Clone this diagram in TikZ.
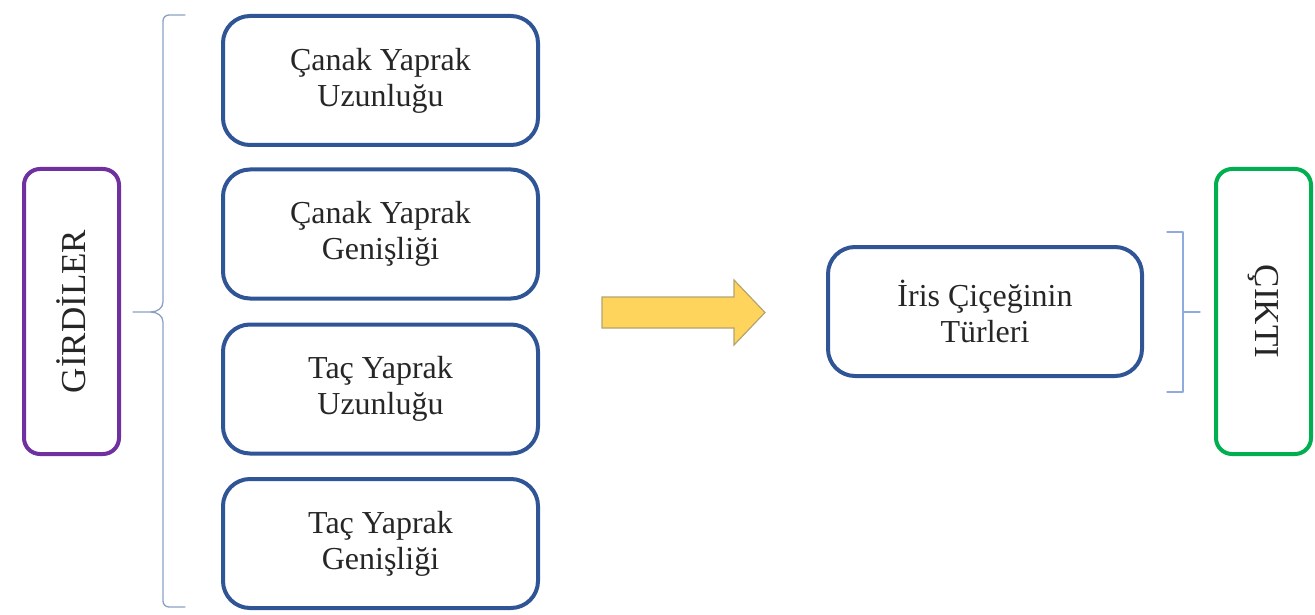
\documentclass[tikz,border=0pt]{standalone}
\usepackage{fontspec}
\setmainfont{Liberation Serif}
\definecolor{boxblue}{HTML}{2F5597}
\definecolor{inpurple}{HTML}{7030A0}
\definecolor{outgreen}{HTML}{00B050}
\definecolor{bracegray}{HTML}{8A9FC4}
\definecolor{bracketblue}{HTML}{8FAADC}
\definecolor{arrowfill}{HTML}{FFD45C}
\definecolor{arrowedge}{HTML}{B3A470}
\begin{document}
\begin{tikzpicture}[x=1pt,y=-1pt,
  txt/.style={font=\fontsize{32}{36}\selectfont, align=center, text=black!85},
  sidetxt/.style={font=\fontsize{35}{40}\selectfont, text=black!85},
  featbox/.style={txt, draw=boxblue, line width=4pt, rounded corners=27pt,
    minimum width=315pt, minimum height=129pt, inner sep=0pt},
  sidebox/.style={draw=#1, line width=4pt, rounded corners=16pt,
    minimum width=95pt, minimum height=285pt, inner sep=0pt},
  bracestroke/.style={line width=1.3pt, line cap=round, line join=round}]
\useasboundingbox (0,0) rectangle (1315,615);

% input label
\node[sidebox=inpurple] (in) at (71.5,311.5) {};
\node[sidetxt, rotate=90] (inlbl) at (in.center) {GİRDİLER};

% the four input features
\node[featbox] (f1) at (380.5,80.5) {Çanak Yaprak\\Uzunluğu};
\node[featbox] (f2) at (380.5,234) {Çanak Yaprak\\Genişliği};
\node[featbox] (f3) at (380.5,389) {Taç Yaprak\\Uzunluğu};
\node[featbox] (f4) at (380.5,543.5) {Taç Yaprak\\Genişliği};

% curly brace grouping the inputs
\coordinate (bt) at (185,15);
\coordinate (bb) at (185,607);
\coordinate (bp) at (133,312);
\draw[bracestroke, draw=bracegray]
  (bt) -- (169,15) to[out=180,in=90] (163,21) -- (163,302)
  to[out=-90,in=0] (151,312) -- (bp);
\draw[bracestroke, draw=bracegray]
  (bb) -- (169,607) to[out=180,in=-90] (163,601) -- (163,322)
  to[out=90,in=0] (151,312);

% block arrow
\draw[fill=arrowfill, draw=arrowedge, line width=1.2pt, line join=miter]
  (602,297) -- (734,297) -- (734,280) -- (765,312.5) -- (734,345)
  -- (734,328) -- (602,328) -- cycle;

% output node
\node[featbox, minimum width=314pt] (res) at (985,311.5) {İris Çiçeğinin\\Türleri};

% square bracket toward the output label
\coordinate (rt) at (1167,232);
\coordinate (rb) at (1167,392);
\coordinate (rp) at (1200,312);
\draw[bracestroke, draw=bracketblue] (rt) -- (1183,232) -- (1183,392) -- (rb);
\draw[bracestroke, draw=bracketblue] (1183,312) -- (rp);

% output label
\node[sidebox=outgreen] (out) at (1263.5,311.5) {};
\node[sidetxt, rotate=-90] (outlbl) at (out.center) {ÇIKTI};
\end{tikzpicture}
\end{document}
